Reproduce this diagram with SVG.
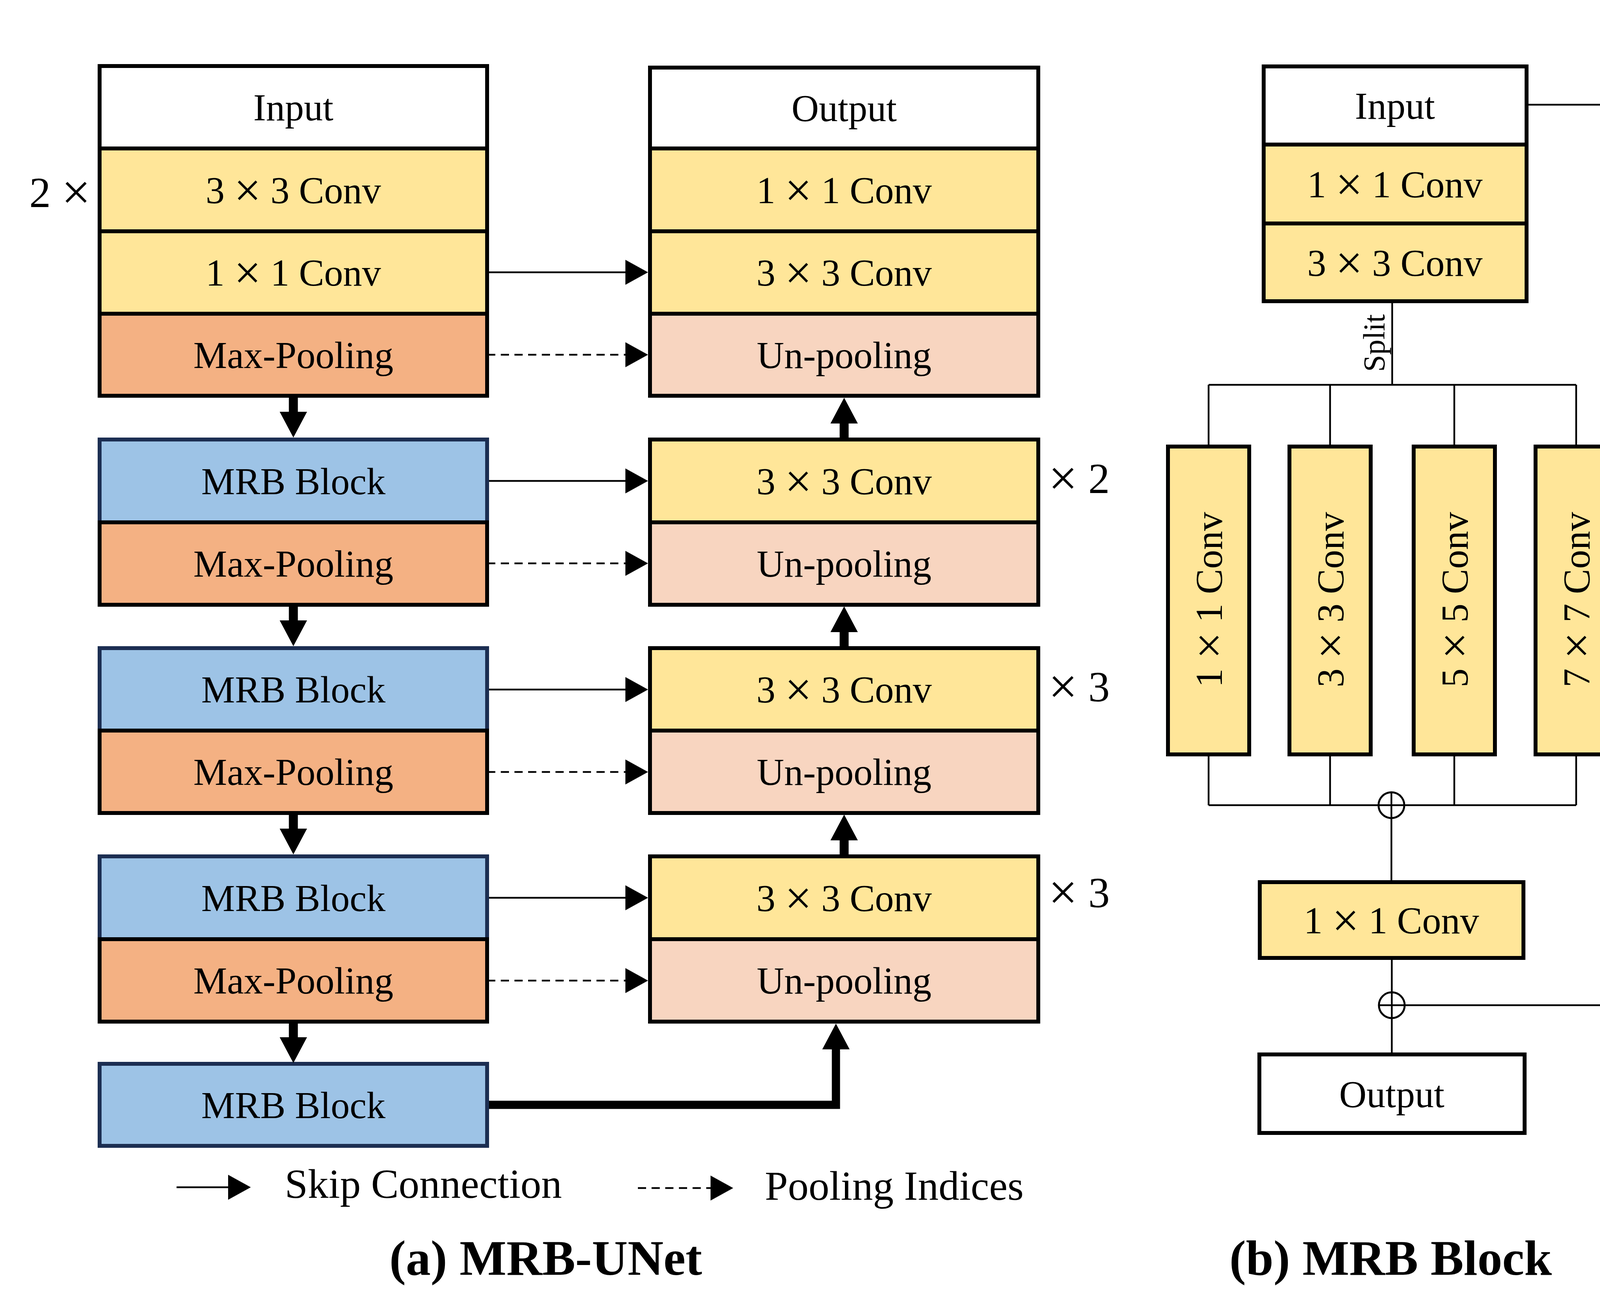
<svg xmlns="http://www.w3.org/2000/svg" width="4536" height="3325" viewBox="0 0 4536 3325">
<style>
.b{stroke:#000;stroke-width:10}
.mrb{fill:#9DC3E6;stroke:#1C2E52;stroke-width:10}
.conv{fill:#FFE699}
.mp{fill:#F4B183}
.up{fill:#F8D5C0}
.io{fill:#FFFFFF}
.t{font-family:"Liberation Serif","Times New Roman",serif;font-size:97px;text-anchor:middle;fill:#000}
.x{font-size:122px}
.lg{font-family:"Liberation Serif","Times New Roman",serif;font-size:106px;fill:#000}
.rep{font-family:"Liberation Serif","Times New Roman",serif;font-size:110px;fill:#000}
.rx{font-size:132px}
.ttl{font-family:"Liberation Serif","Times New Roman",serif;font-size:127px;font-weight:bold;text-anchor:middle;fill:#000}
.ln{stroke:#000;stroke-width:4.5;fill:none}
.dash{stroke-dasharray:21 14}
.thick{stroke:#000;stroke-width:23;fill:none}
.cir{stroke:#000;stroke-width:5;fill:none}
</style>
<defs>
<marker id="ah" markerUnits="userSpaceOnUse" viewBox="0 0 58 64" markerWidth="58" markerHeight="64" refX="0" refY="32" orient="auto"><path d="M0 0L58 32L0 64Z" fill="#000"/></marker>
<marker id="ahT" markerUnits="userSpaceOnUse" viewBox="0 0 66 70" markerWidth="66" markerHeight="70" refX="0" refY="35" orient="auto"><path d="M0 0L66 35L0 70Z" fill="#000"/></marker>
</defs>
<rect width="4536" height="3325" fill="#fff"/>

<!-- (a) encoder column -->
<g id="enc-input"><rect class="b io" x="255" y="169" width="992" height="211"/><text class="t" x="751" y="308">Input</text></g>
<g id="enc-conv3"><rect class="b conv" x="255" y="380" width="992" height="212"/><text class="t" x="751" y="520">3 <tspan class="x" dy="8">×</tspan><tspan dy="-8"> 3 Conv</tspan></text></g>
<g id="enc-conv1"><rect class="b conv" x="255" y="592" width="992" height="211"/><text class="t" x="751" y="731">1 <tspan class="x" dy="8">×</tspan><tspan dy="-8"> 1 Conv</tspan></text></g>
<g id="enc-pool1"><rect class="b mp" x="255" y="803" width="992" height="210"/><text class="t" x="751" y="942">Max-Pooling</text></g>
<g id="enc-rep"><text class="rep" x="232" y="530" text-anchor="end">2 <tspan class="rx" dy="6">×</tspan></text></g>

<g id="enc-mrb1"><rect class="mrb" x="255" y="1125" width="992" height="212"/><text class="t" x="751" y="1265">MRB Block</text></g>
<g id="enc-pool2"><rect class="b mp" x="255" y="1337" width="992" height="211"/><text class="t" x="751" y="1476">Max-Pooling</text></g>

<g id="enc-mrb2"><rect class="mrb" x="255" y="1659" width="992" height="211"/><text class="t" x="751" y="1798">MRB Block</text></g>
<g id="enc-pool3"><rect class="b mp" x="255" y="1870" width="992" height="211"/><text class="t" x="751" y="2009">Max-Pooling</text></g>

<g id="enc-mrb3"><rect class="mrb" x="255" y="2192" width="992" height="212"/><text class="t" x="751" y="2332">MRB Block</text></g>
<g id="enc-pool4"><rect class="b mp" x="255" y="2404" width="992" height="211"/><text class="t" x="751" y="2543">Max-Pooling</text></g>

<g id="bottleneck"><rect class="mrb" x="255" y="2723" width="992" height="210"/><text class="t" x="751" y="2862">MRB Block</text></g>

<!-- (a) decoder column -->
<g id="dec-output"><rect class="b io" x="1664" y="173" width="994" height="207"/><text class="t" x="2161" y="310">Output</text></g>
<g id="dec-conv1"><rect class="b conv" x="1664" y="380" width="994" height="212"/><text class="t" x="2161" y="520">1 <tspan class="x" dy="8">×</tspan><tspan dy="-8"> 1 Conv</tspan></text></g>
<g id="dec-conv3a"><rect class="b conv" x="1664" y="592" width="994" height="211"/><text class="t" x="2161" y="731">3 <tspan class="x" dy="8">×</tspan><tspan dy="-8"> 3 Conv</tspan></text></g>
<g id="dec-unpool1"><rect class="b up" x="1664" y="803" width="994" height="210"/><text class="t" x="2161" y="942">Un-pooling</text></g>

<g id="dec-conv3b"><rect class="b conv" x="1664" y="1125" width="994" height="212"/><text class="t" x="2161" y="1265">3 <tspan class="x" dy="8">×</tspan><tspan dy="-8"> 3 Conv</tspan></text></g>
<g id="dec-unpool2"><rect class="b up" x="1664" y="1337" width="994" height="211"/><text class="t" x="2161" y="1476">Un-pooling</text></g>
<g id="dec-rep2"><text class="rep" x="2684" y="1262"><tspan class="rx" dy="6">×</tspan><tspan dy="-6"> 2</tspan></text></g>

<g id="dec-conv3c"><rect class="b conv" x="1664" y="1659" width="994" height="211"/><text class="t" x="2161" y="1798">3 <tspan class="x" dy="8">×</tspan><tspan dy="-8"> 3 Conv</tspan></text></g>
<g id="dec-unpool3"><rect class="b up" x="1664" y="1870" width="994" height="211"/><text class="t" x="2161" y="2009">Un-pooling</text></g>
<g id="dec-rep3a"><text class="rep" x="2684" y="1795"><tspan class="rx" dy="6">×</tspan><tspan dy="-6"> 3</tspan></text></g>

<g id="dec-conv3d"><rect class="b conv" x="1664" y="2192" width="994" height="212"/><text class="t" x="2161" y="2332">3 <tspan class="x" dy="8">×</tspan><tspan dy="-8"> 3 Conv</tspan></text></g>
<g id="dec-unpool4"><rect class="b up" x="1664" y="2404" width="994" height="211"/><text class="t" x="2161" y="2543">Un-pooling</text></g>
<g id="dec-rep3b"><text class="rep" x="2684" y="2322"><tspan class="rx" dy="6">×</tspan><tspan dy="-6"> 3</tspan></text></g>

<!-- (b) MRB block -->
<g id="b-input"><rect class="b io" x="3235" y="170" width="673" height="200"/><text class="t" x="3571" y="304">Input</text></g>
<g id="b-conv1"><rect class="b conv" x="3235" y="370" width="673" height="202"/><text class="t" x="3571" y="505">1 <tspan class="x" dy="8">×</tspan><tspan dy="-8"> 1 Conv</tspan></text></g>
<g id="b-conv3"><rect class="b conv" x="3235" y="572" width="673" height="199"/><text class="t" x="3571" y="706">3 <tspan class="x" dy="8">×</tspan><tspan dy="-8"> 3 Conv</tspan></text></g>
<g id="b-br1"><rect class="b conv" x="2990" y="1143" width="208" height="788"/><text class="t" transform="translate(3094 1535) rotate(-90)" x="0" y="34">1 <tspan class="x" dy="8">×</tspan><tspan dy="-8"> 1 Conv</tspan></text></g>
<g id="b-br3"><rect class="b conv" x="3301" y="1143" width="208" height="788"/><text class="t" transform="translate(3405 1535) rotate(-90)" x="0" y="34">3 <tspan class="x" dy="8">×</tspan><tspan dy="-8"> 3 Conv</tspan></text></g>
<g id="b-br5"><rect class="b conv" x="3619" y="1143" width="208" height="788"/><text class="t" transform="translate(3723 1535) rotate(-90)" x="0" y="34">5 <tspan class="x" dy="8">×</tspan><tspan dy="-8"> 5 Conv</tspan></text></g>
<g id="b-br7"><rect class="b conv" x="3931" y="1143" width="208" height="788"/><text class="t" transform="translate(4035 1535) rotate(-90)" x="0" y="34">7 <tspan class="x" dy="8">×</tspan><tspan dy="-8"> 7 Conv</tspan></text></g>
<g id="b-res"><rect class="b conv" x="4256" y="1143" width="208" height="788"/><text class="t" transform="translate(4360 1535) rotate(-90)" x="0" y="34">1 <tspan class="x" dy="8">×</tspan><tspan dy="-8"> 1 Conv</tspan></text></g>
<g id="b-fuse"><rect class="b conv" x="3225" y="2258" width="675" height="194"/><text class="t" x="3562" y="2389">1 <tspan class="x" dy="8">×</tspan><tspan dy="-8"> 1 Conv</tspan></text></g>
<g id="b-output"><rect class="b io" x="3224" y="2699" width="679" height="201"/><text class="t" x="3563" y="2834">Output</text></g>
<g id="b-split"><text transform="translate(3544 878) rotate(-90)" x="0" y="0" style="font-family:'Liberation Serif','Times New Roman',serif;font-size:78px;text-anchor:middle">Split</text></g>

<!-- connectors -->
<g id="connectors">
<path class="ln" d="M1252 697H1601" marker-end="url(#ah)"/>
<path class="ln" d="M1252 1231H1601" marker-end="url(#ah)"/>
<path class="ln" d="M1252 1765H1601" marker-end="url(#ah)"/>
<path class="ln" d="M1252 2298H1601" marker-end="url(#ah)"/>
<path class="ln dash" d="M1247 908H1601" marker-end="url(#ah)"/>
<path class="ln dash" d="M1247 1442H1601" marker-end="url(#ah)"/>
<path class="ln dash" d="M1247 1976H1601" marker-end="url(#ah)"/>
<path class="ln dash" d="M1247 2510H1601" marker-end="url(#ah)"/>
<path class="thick" d="M751 1018V1054" marker-end="url(#ahT)"/>
<path class="thick" d="M751 1553V1588" marker-end="url(#ahT)"/>
<path class="thick" d="M751 2086V2121" marker-end="url(#ahT)"/>
<path class="thick" d="M751 2620V2655" marker-end="url(#ahT)"/>
<path class="thick" d="M2161 1120V1084" marker-end="url(#ahT)"/>
<path class="thick" d="M2161 1654V1618" marker-end="url(#ahT)"/>
<path class="thick" d="M2161 2187V2151" marker-end="url(#ahT)"/>
<path d="M1252 2828H2140V2686" stroke="#000" stroke-width="21" fill="none" stroke-linejoin="miter" marker-end="url(#ahT)"/>
<path class="ln" d="M3913 268H4360V1138"/>
<path class="ln" d="M3564 776V985"/>
<path class="ln" d="M3094 985H4035M3094 985V1138M3405 985V1138M3723 985V1138M4035 985V1138"/>
<path class="ln" d="M3094 1936V2061M3405 1936V2061M3723 1936V2061M4035 1936V2061M3094 2061H4035"/>
<circle class="cir" cx="3562" cy="2061" r="33"/>
<path class="ln" d="M3562 2028V2253"/>
<path class="ln" d="M3563 2457V2694"/>
<circle class="cir" cx="3563" cy="2573" r="33"/>
<path class="ln" d="M3530 2573H4360V1936"/>
</g>

<g id="legend">
<path class="ln" d="M452 3039H584" marker-end="url(#ah)"/>
<text class="lg" x="729" y="3066">Skip Connection</text>
<path class="ln dash" d="M1633 3041H1819" marker-end="url(#ah)"/>
<text class="lg" x="1958" y="3071">Pooling Indices</text>
</g>

<g id="titles">
<text class="ttl" x="1397" y="3263">(a) MRB-UNet</text>
<text class="ttl" x="3560" y="3263">(b) MRB Block</text>
</g>
</svg>
